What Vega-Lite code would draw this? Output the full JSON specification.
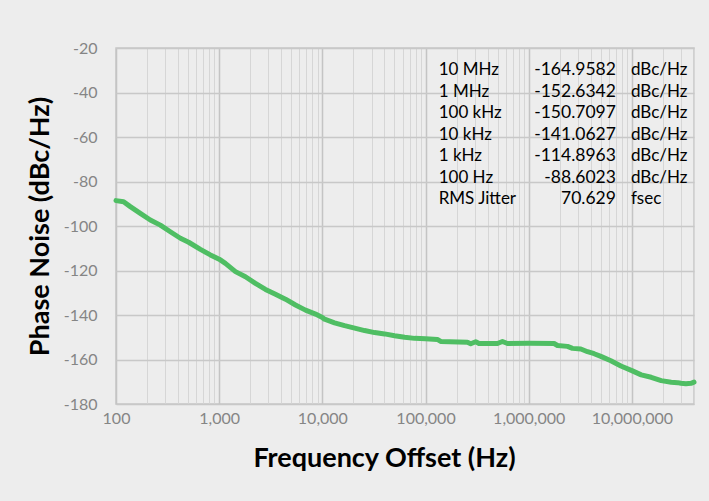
{
  "$schema": "https://vega.github.io/schema/vega-lite/v6.json",
  "width": 578,
  "height": 356,
  "autosize": {"type": "none"},
  "padding": {"left": 116, "top": 48, "right": 15, "bottom": 97},
  "background": "#ededed",
  "config": {"view": {"stroke": "#c6c6c6", "strokeWidth": 1.5}, "font": "Lato"},
  "datasets": {
    "curve": [
      {"freq": 100, "dbc": -88.6}, {"freq": 118.5, "dbc": -89.1}, {"freq": 137.6, "dbc": -91.3},
      {"freq": 172, "dbc": -94.3}, {"freq": 215, "dbc": -97.3}, {"freq": 269, "dbc": -99.6},
      {"freq": 336, "dbc": -102.6}, {"freq": 421, "dbc": -105.5}, {"freq": 506, "dbc": -107.3},
      {"freq": 658, "dbc": -110.5}, {"freq": 822, "dbc": -113.0}, {"freq": 1000, "dbc": -114.9},
      {"freq": 1149, "dbc": -116.8}, {"freq": 1438, "dbc": -120.5}, {"freq": 1797, "dbc": -122.8},
      {"freq": 2247, "dbc": -125.8}, {"freq": 2810, "dbc": -128.5}, {"freq": 3513, "dbc": -130.7},
      {"freq": 4392, "dbc": -132.9}, {"freq": 5491, "dbc": -135.5}, {"freq": 6867, "dbc": -137.8},
      {"freq": 8587, "dbc": -139.6}, {"freq": 10000, "dbc": -141.1}, {"freq": 10505, "dbc": -141.9},
      {"freq": 13134, "dbc": -143.5}, {"freq": 16430, "dbc": -144.8}, {"freq": 20540, "dbc": -145.9},
      {"freq": 25680, "dbc": -147.0}, {"freq": 32110, "dbc": -147.9}, {"freq": 40140, "dbc": -148.5},
      {"freq": 50180, "dbc": -149.3}, {"freq": 62760, "dbc": -150.0}, {"freq": 78470, "dbc": -150.5},
      {"freq": 100000, "dbc": -150.7}, {"freq": 130200, "dbc": -151.0}, {"freq": 140200, "dbc": -151.9},
      {"freq": 254600, "dbc": -152.2}, {"freq": 274000, "dbc": -152.9}, {"freq": 306400, "dbc": -152.0},
      {"freq": 329900, "dbc": -152.8}, {"freq": 497600, "dbc": -152.8}, {"freq": 556500, "dbc": -151.9},
      {"freq": 622200, "dbc": -152.8}, {"freq": 1000000, "dbc": -152.7}, {"freq": 1763000, "dbc": -152.8},
      {"freq": 1901000, "dbc": -153.7}, {"freq": 2377000, "dbc": -154.1}, {"freq": 2658000, "dbc": -155.0},
      {"freq": 3200000, "dbc": -155.3}, {"freq": 3717000, "dbc": -156.5}, {"freq": 4308000, "dbc": -157.4},
      {"freq": 5003000, "dbc": -158.6}, {"freq": 6256000, "dbc": -160.6}, {"freq": 7823000, "dbc": -162.9},
      {"freq": 10000000, "dbc": -165.0}, {"freq": 12310000, "dbc": -166.9}, {"freq": 15390000, "dbc": -168.0},
      {"freq": 19240000, "dbc": -169.5}, {"freq": 24060000, "dbc": -170.2}, {"freq": 27760000, "dbc": -170.4},
      {"freq": 29880000, "dbc": -170.7}, {"freq": 33410000, "dbc": -170.9}, {"freq": 37370000, "dbc": -170.7},
      {"freq": 40000000, "dbc": -170.2}
    ],
    "table": [
      {"order": 1, "label": "10 MHz", "value": "-164.9582", "unit": "dBc/Hz"},
      {"order": 2, "label": "1 MHz", "value": "-152.6342", "unit": "dBc/Hz"},
      {"order": 3, "label": "100 kHz", "value": "-150.7097", "unit": "dBc/Hz"},
      {"order": 4, "label": "10 kHz", "value": "-141.0627", "unit": "dBc/Hz"},
      {"order": 5, "label": "1 kHz", "value": "-114.8963", "unit": "dBc/Hz"},
      {"order": 6, "label": "100 Hz", "value": "-88.6023", "unit": "dBc/Hz"},
      {"order": 7, "label": "RMS Jitter", "value": "70.629", "unit": "fsec"}
    ]
  },
  "layer": [
    {
      "data": {"name": "curve"},
      "mark": {"type": "line", "color": "#4fbe63", "strokeWidth": 5, "strokeCap": "round", "strokeJoin": "round"},
      "encoding": {
        "x": {
          "field": "freq", "type": "quantitative",
          "scale": {"type": "log", "domain": [100, 40000000], "nice": false},
          "axis": {
            "values": [100,200,300,400,500,600,700,800,900,1000,2000,3000,4000,5000,6000,7000,8000,9000,10000,20000,30000,40000,50000,60000,70000,80000,90000,100000,200000,300000,400000,500000,600000,700000,800000,900000,1000000,2000000,3000000,4000000,5000000,6000000,7000000,8000000,9000000,10000000,20000000,30000000,40000000],
            "labelExpr": "indexof([100,1000,10000,100000,1000000,10000000], datum.value) >= 0 ? format(datum.value, ',') : ''",
            "labelOverlap": false, "labelFlush": false, "labelBound": false,
            "ticks": false, "domain": false, "grid": true,
            "gridColor": {"condition": {"test": "indexof([100,1000,10000,100000,1000000,10000000], datum.value) >= 0", "value": "#c4c4c4"}, "value": "#d6d6d6"},
            "gridWidth": {"condition": {"test": "indexof([100,1000,10000,100000,1000000,10000000], datum.value) >= 0", "value": 1.5}, "value": 1},
            "labelFont": "Lato", "labelFontSize": 16, "labelColor": "#858585", "labelPadding": 6,
            "title": "Frequency Offset (Hz)", "titleFont": "Lato", "titleFontSize": 27, "titleFontWeight": "bold", "titleColor": "#000000",
            "titleX": 268, "titleY": 62, "titleBaseline": "alphabetic", "titleAlign": "center"
          }
        },
        "y": {
          "field": "dbc", "type": "quantitative",
          "scale": {"domain": [-180, -20], "nice": false},
          "axis": {
            "values": [-180, -160, -140, -120, -100, -80, -60, -40, -20],
            "labelExpr": "'' + datum.value",
            "ticks": false, "domain": false, "grid": true, "gridColor": "#c8c8c8", "gridWidth": 1.5,
            "labelFont": "Lato", "labelFontSize": 16, "labelColor": "#858585", "labelPadding": 19,
            "title": "Phase Noise (dBc/Hz)", "titleFont": "Lato", "titleFontSize": 27, "titleFontWeight": "bold", "titleColor": "#000000",
            "titleX": -68, "titleY": 178, "titleBaseline": "alphabetic", "titleAlign": "center"
          }
        }
      }
    },
    {
      "data": {"name": "table"},
      "mark": {"type": "text", "align": "left", "baseline": "alphabetic", "fontSize": 17, "font": "Lato", "color": "#000000"},
      "encoding": {
        "x": {"datum": 134100, "type": "quantitative"},
        "y": {"field": "order", "type": "ordinal", "scale": {"type": "point", "range": [27, 156.3], "padding": 0}, "axis": null},
        "text": {"field": "label"}
      }
    },
    {
      "data": {"name": "table"},
      "mark": {"type": "text", "align": "right", "baseline": "alphabetic", "fontSize": 17.5, "font": "Lato", "color": "#000000"},
      "encoding": {
        "x": {"datum": 7000000, "type": "quantitative"},
        "y": {"field": "order", "type": "ordinal", "scale": {"type": "point", "range": [27, 156.3], "padding": 0}, "axis": null},
        "text": {"field": "value"}
      }
    },
    {
      "data": {"name": "table"},
      "mark": {"type": "text", "align": "left", "baseline": "alphabetic", "fontSize": 17, "font": "Lato", "color": "#000000"},
      "encoding": {
        "x": {"datum": 9780000, "type": "quantitative"},
        "y": {"field": "order", "type": "ordinal", "scale": {"type": "point", "range": [27, 156.3], "padding": 0}, "axis": null},
        "text": {"field": "unit"}
      }
    }
  ],
  "resolve": {"scale": {"y": "independent"}}
}
